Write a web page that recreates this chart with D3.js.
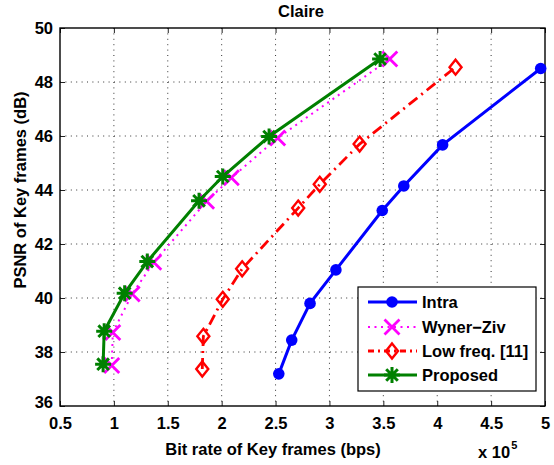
<!DOCTYPE html>
<html><head><meta charset="utf-8">
<script src="https://cdn.jsdelivr.net/npm/d3@7"></script>
<style>body{margin:0;background:#fff}svg{display:block}text{font-family:"Liberation Sans",Arial,Helvetica,sans-serif;font-weight:bold}</style>
</head><body>
<script>
// Bit rate in units of 1e5 bps, PSNR in dB
const intraX = [2.53, 2.65, 2.82, 3.06, 3.49, 3.69, 4.05, 4.96];
const intraY = [37.19, 38.44, 39.80, 41.04, 43.24, 44.15, 45.67, 48.50];
const wzX = [0.98, 0.99, 1.17, 1.37, 1.86, 2.09, 2.52, 3.56];
const wzY = [37.50, 38.72, 40.15, 41.32, 43.58, 44.45, 45.93, 48.85];
const lowX = [1.82, 1.83, 2.01, 2.19, 2.71, 2.91, 3.28, 4.17];
const lowY = [37.37, 38.58, 39.95, 41.08, 43.33, 44.21, 45.70, 48.55];
const propX = [0.90, 0.91, 1.10, 1.31, 1.79, 2.01, 2.44, 3.47];
const propY = [37.55, 38.77, 40.18, 41.35, 43.60, 44.50, 45.98, 48.85];
const xTicks = [0.5, 1, 1.5, 2, 2.5, 3, 3.5, 4, 4.5, 5];
const yTicks = [36, 38, 40, 42, 44, 46, 48, 50];
const seriesNames = ["Intra", "Wyner\u2212Ziv", "Low freq. [11]", "Proposed"];

const W = 554, H = 465;
const L = 60, R = 545, T = 28, B = 406;
const svg = d3.select("body").append("svg").attr("width", W).attr("height", H);
const x = d3.scaleLinear().domain([0.5, 5]).range([L, R]);
const y = d3.scaleLinear().domain([36, 50]).range([B, T]);

// grid
const grid = svg.append("g").attr("stroke", "#333").attr("stroke-width", 1).attr("stroke-dasharray", "1,4.4");
xTicks.slice(1, -1).forEach(v => grid.append("line").attr("x1", x(v)).attr("x2", x(v)).attr("y1", T).attr("y2", B));
yTicks.slice(1, -1).forEach(v => grid.append("line").attr("x1", L).attr("x2", R).attr("y1", y(v)).attr("y2", y(v)));

// axes
const fs = 16.5;
const gx = svg.append("g").attr("transform", `translate(0,${B})`)
  .call(d3.axisBottom(x).tickValues(xTicks).tickSize(-5).tickPadding(11).tickFormat(d => d));
const gy = svg.append("g").attr("transform", `translate(${L},0)`)
  .call(d3.axisLeft(y).tickValues(yTicks).tickSize(-5).tickPadding(7).tickFormat(d => d));
const gxt = svg.append("g").attr("transform", `translate(0,${T})`)
  .call(d3.axisTop(x).tickValues(xTicks).tickSize(-5).tickFormat(""));
const gyr = svg.append("g").attr("transform", `translate(${R},0)`)
  .call(d3.axisRight(y).tickValues(yTicks).tickSize(-5).tickFormat(""));
[gx, gy, gxt, gyr].forEach(g => {
  g.select(".domain").remove();
  g.selectAll("line").attr("stroke", "#222").attr("stroke-width", 1);
  g.selectAll("text").attr("font-size", fs).attr("fill", "#000").attr("font-family", '"Liberation Sans",Arial,sans-serif').attr("font-weight", "bold");
});
gy.selectAll(".tick").filter(d => d === 36).select("text").attr("dy", "0.1em");
svg.append("rect").attr("x", L).attr("y", T).attr("width", R - L).attr("height", B - T)
  .attr("fill", "none").attr("stroke", "#000").attr("stroke-width", 1.4);

// labels
svg.append("text").attr("x", 301).attr("y", 17).attr("text-anchor", "middle").attr("font-size", fs).text("Claire");
svg.append("text").attr("x", 273).attr("y", 455).attr("text-anchor", "middle").attr("font-size", fs).text("Bit rate of Key frames (bps)");
svg.append("text").attr("transform", "translate(26,190) rotate(-90)").attr("text-anchor", "middle").attr("font-size", fs).text("PSNR of Key frames (dB)");
const ex = svg.append("text").attr("x", 478).attr("y", 458).attr("font-size", fs);
ex.append("tspan").text("x 10");
ex.append("tspan").attr("font-size", 11).attr("dy", -9).attr("dx", 1).text("5");

// marker painters
function circle(g, cx, cy) { g.append("circle").attr("cx", cx).attr("cy", cy).attr("r", 5.8).attr("fill", "#0000ff"); }
function cross(g, cx, cy) {
  const s = 7.5;
  g.append("path").attr("d", `M${cx - s},${cy - s}L${cx + s},${cy + s}M${cx - s},${cy + s}L${cx + s},${cy - s}`)
    .attr("stroke", "#ff00ff").attr("stroke-width", 2.8).attr("fill", "none");
}
function diamond(g, cx, cy) {
  g.append("path").attr("d", `M${cx},${cy - 7.5}L${cx + 6},${cy}L${cx},${cy + 7.5}L${cx - 6},${cy}Z`)
    .attr("stroke", "#ff0000").attr("stroke-width", 2.4).attr("fill", "none");
}
function star(g, cx, cy) {
  const s = 8, d = 5.8;
  g.append("path").attr("d", `M${cx - s},${cy}L${cx + s},${cy}M${cx},${cy - s}L${cx},${cy + s}M${cx - d},${cy - d}L${cx + d},${cy + d}M${cx - d},${cy + d}L${cx + d},${cy - d}`)
    .attr("stroke", "#008000").attr("stroke-width", 3).attr("fill", "none");
}

const series = [
  {xs: intraX, ys: intraY, color: "#0000ff", w: 3, dash: null, mk: circle},
  {xs: wzX, ys: wzY, color: "#ff00ff", w: 2, dash: "2,4.5", mk: cross},
  {xs: lowX, ys: lowY, color: "#ff0000", w: 2.8, dash: "11,5,2,5", mk: diamond},
  {xs: propX, ys: propY, color: "#008000", w: 3, dash: null, mk: star}
];
const line = d3.line().x(d => x(d[0])).y(d => y(d[1]));
const plot = svg.append("g");
series.forEach(s => {
  const pts = s.xs.map((v, i) => [v, s.ys[i]]);
  const p = plot.append("path").attr("d", line(pts)).attr("fill", "none").attr("stroke", s.color).attr("stroke-width", s.w);
  if (s.dash) p.attr("stroke-dasharray", s.dash);
  pts.forEach(d => s.mk(plot, x(d[0]), y(d[1])));
});

// legend
const lg = svg.append("g");
lg.append("rect").attr("x", 358).attr("y", 287).attr("width", 178).attr("height", 104)
  .attr("fill", "#fff").attr("stroke", "#000").attr("stroke-width", 1.2);
const ly = [302, 327, 351, 375];
series.forEach((s, i) => {
  const l = lg.append("line").attr("x1", 368).attr("x2", 417).attr("y1", ly[i]).attr("y2", ly[i])
    .attr("stroke", s.color).attr("stroke-width", s.w);
  if (s.dash) l.attr("stroke-dasharray", i === 1 ? "2,4.5" : "6,4,2,4");
  s.mk(lg, 392, ly[i]);
  lg.append("text").attr("x", 422).attr("y", ly[i]).attr("dy", "0.36em").attr("font-size", fs).text(seriesNames[i]);
});
</script>
</body></html>
